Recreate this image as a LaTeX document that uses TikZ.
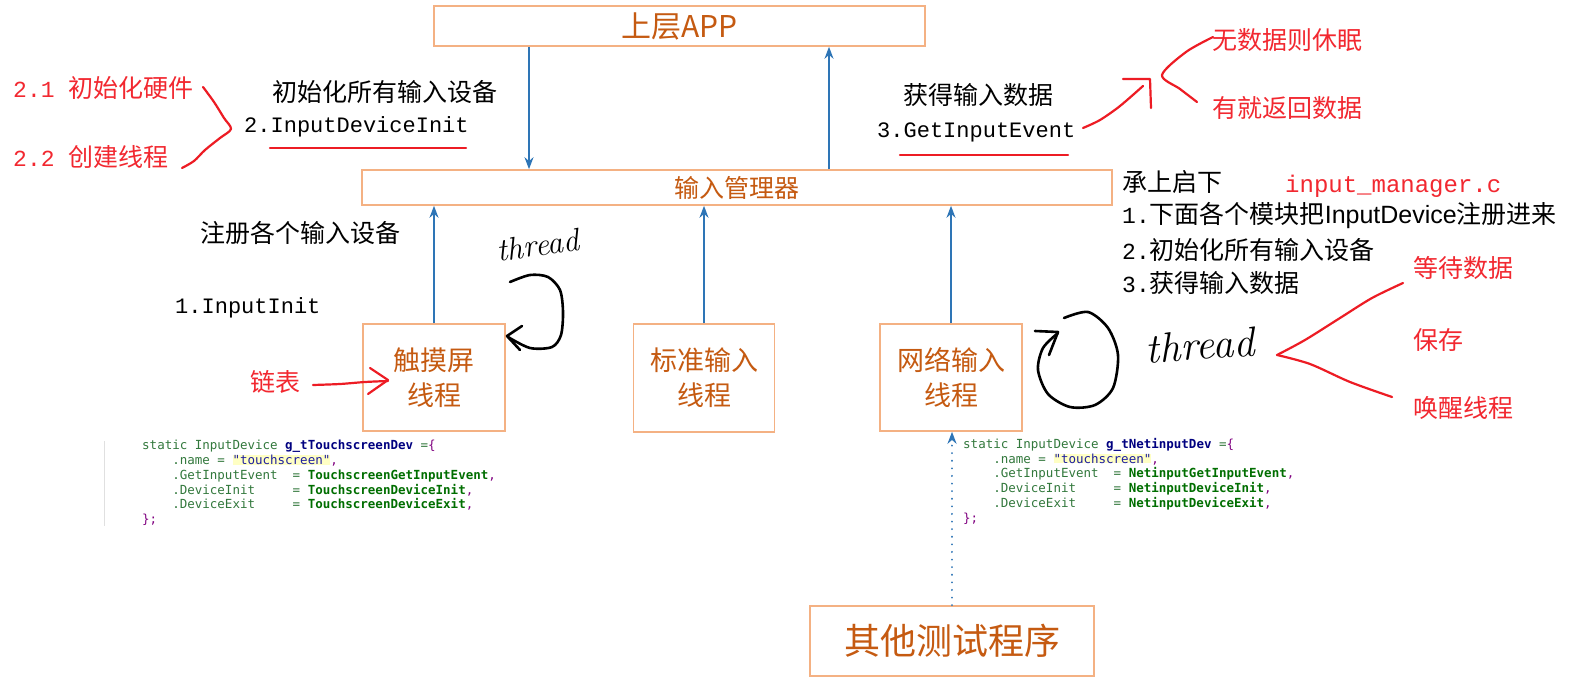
\documentclass[tikz,border=0pt]{standalone}
\usepackage{fontspec}
\newfontfamily\cjk{Noto Sans CJK SC}
\newfontfamily\cmono{Liberation Mono}
\newfontfamily\codefont{DejaVu Sans Mono}
\newfontfamily\lsans{Liberation Sans}
\usetikzlibrary{arrows.meta}
\definecolor{boxline}{RGB}{244,177,131}
\definecolor{boxtext}{RGB}{197,90,17}
\definecolor{arrowblue}{RGB}{46,117,182}
\definecolor{hred}{RGB}{237,28,36}
\definecolor{tred}{RGB}{242,40,48}
\definecolor{cg}{RGB}{50,120,60}
\definecolor{cb}{RGB}{0,110,0}
\definecolor{cn}{RGB}{0,0,128}
\definecolor{cp}{RGB}{128,0,128}
\definecolor{cs}{RGB}{30,30,160}
\definecolor{strbg}{RGB}{255,255,196}
\newcommand\ind[1]{\hspace*{#1\dimexpr 7.525pt\relax}}
\begin{document}
\begin{tikzpicture}[x=1pt,y=-1pt,
  box/.style={draw=boxline, line width=1.6pt, text=boxtext, inner sep=0pt, align=center},
  barrow/.style={draw=arrowblue, line width=1.6pt, -{Stealth[length=12pt,width=9pt]}},
  blk/.style={anchor=west, inner sep=0pt, font=\cjk\fontsize{25}{28}\selectfont},
  rtxt/.style={anchor=west, inner sep=0pt, text=tred, font=\cjk\fontsize{25}{28}\selectfont},
  monotxt/.style={anchor=west, inner sep=0pt, font=\cmono\fontsize{22}{26}\selectfont},
  hand/.style={hred, line width=2.2pt, line cap=round, line join=round},
  bhand/.style={black, line width=2.6pt, line cap=round, line join=round},
  code/.style={anchor=north west, inner sep=0pt, align=left, font=\codefont\fontsize{12.5}{14.8}\selectfont}
]
\fill[white] (0,0) rectangle (1578,692);
\useasboundingbox (0,0) rectangle (1578,692);

% boxes
\node[box, minimum width=491pt, minimum height=40pt, font=\cjk\fontsize{30}{32}\selectfont] (app) at (679.5,26) {上层APP};
\node[box, minimum width=750pt, minimum height=35pt, font=\cjk\fontsize{25}{28}\selectfont] (mgr) at (737,187.5) {输入管理器};
\node[box, minimum width=142pt, minimum height=107pt, font=\cjk\fontsize{27}{35}\selectfont] (touch) at (434,377.5) {触摸屏\\线程};
\node[box, minimum width=141pt, minimum height=108pt, font=\cjk\fontsize{27}{35}\selectfont] (std) at (704,378) {标准输入\\线程};
\node[box, minimum width=142pt, minimum height=107pt, font=\cjk\fontsize{27}{35}\selectfont] (net) at (951,377.5) {网络输入\\线程};
\node[box, minimum width=284pt, minimum height=70pt, font=\cjk\fontsize{36}{40}\selectfont] (other) at (952,641) {其他测试程序};

% blue arrows
\coordinate (xd) at (529,0);
\coordinate (xu) at (829,0);
\draw[barrow] (app.south -| xd) -- (mgr.north -| xd);
\draw[barrow] (mgr.north -| xu) -- (app.south -| xu);
\draw[barrow] (touch.north) -- (mgr.south -| touch.north);
\draw[barrow] (std.north) -- (mgr.south -| std.north);
\draw[barrow] (net.north) -- (mgr.south -| net.north);
\draw[barrow, line width=2pt, dash pattern=on 0.1pt off 7.5pt, line cap=round] (other.north) -- (net.south -| other.north);

% black texts
\node[blk] (t1) at (272,92) {初始化所有输入设备};
\node[monotxt] (t2) at (244,127) {2.InputDeviceInit};
\node[blk] (t3) at (903,95) {获得输入数据};
\node[monotxt] (t4) at (877,132) {3.GetInputEvent};
\node[blk] (t5) at (1122,182) {承上启下};
\node[anchor=west, inner sep=0pt, text=tred, font=\cmono\fontsize{24}{28}\selectfont] (t6) at (1285,186) {input\_manager.c};
\node[blk] (t7) at (1122,215) {{\cmono\fontsize{23}{28}\selectfont 1.}下面各个模块把{\lsans InputDevice}注册进来};
\node[blk] (t8) at (1122,250) {{\cmono\fontsize{23}{28}\selectfont 2.}初始化所有输入设备};
\node[blk] (t9) at (1122,283) {{\cmono\fontsize{23}{28}\selectfont 3.}获得输入数据};
\node[blk] (t10) at (200,233) {注册各个输入设备};
\node[monotxt] (t11) at (175,308) {1.InputInit};

% red texts
\node[rtxt] (r1) at (13,88) {{\cmono\fontsize{23}{28}\selectfont 2.1 }初始化硬件};
\node[rtxt] (r2) at (13,157) {{\cmono\fontsize{23}{28}\selectfont 2.2 }创建线程};
\node[rtxt] (r3) at (1212,40) {无数据则休眠};
\node[rtxt] (r4) at (1212,108) {有就返回数据};
\node[rtxt] (r5) at (1413,268) {等待数据};
\node[rtxt] (r6) at (1413,340) {保存};
\node[rtxt] (r7) at (1413,408) {唤醒线程};
\node[rtxt] (r8) at (250,382) {链表};

% red hand strokes
\draw[hand] (270,148) -- (466,148);
\draw[hand] (900,155) -- (1068,155);
\draw[hand] plot[smooth] coordinates {(203,87) (214,102) (224,118) (231,129) (220,138) (205,150) (194,161) (182,168)};
\draw[hand] plot[smooth] coordinates {(1083,128) (1100,120) (1120,106) (1143,86)};
\draw[hand] (1123,79) -- (1150,79) -- (1151,108);
\draw[hand] plot[smooth] coordinates {(1213,37) (1186,52) (1162,75) (1180,89) (1197,102)};
\draw[hand] plot[smooth] coordinates {(313,385) (340,384) (365,382) (388,381)};
\draw[hand] (370,368) -- (388,380) -- (368,394);
\draw[hand] plot[smooth] coordinates {(1277,355) (1305,340) (1340,318) (1372,298) (1403,283)};
\draw[hand] plot[smooth] coordinates {(1277,355) (1310,364) (1350,382) (1392,397)};

% black hand strokes
\draw[bhand] plot[smooth] coordinates {(510,282) (530,275) (548,277) (560,290) (563,312) (561,335) (552,347) (530,348) (508,337)};
\draw[bhand] (522,326) -- (507,336) -- (520,350);
\draw[bhand] plot[smooth] coordinates {(1064,318) (1088,312) (1108,328) (1118,355) (1113,388) (1095,405) (1070,407) (1048,394) (1038,370) (1043,348) (1058,333)};
\draw[bhand] (1035,331) -- (1058,332) -- (1049,355);
\node[inner sep=0pt, rotate=8, font=\itshape\fontsize{32}{34}\selectfont] (th1) at (538,245) {thread};
\node[inner sep=0pt, rotate=4, font=\itshape\fontsize{42}{44}\selectfont] (th2) at (1200,345) {thread};

% code blocks
\draw[black!12, line width=0.8pt] (104,441) -- (104,526);
\node[code] (c1) at (142,440) {%
\textcolor{cg}{static InputDevice} \textcolor{cn}{\bfseries g\_tTouchscreenDev} \textcolor{cg}{=}\textcolor{cp}{\{}\\
\ind{4}\textcolor{cg}{.name = }{\fboxsep=0pt\colorbox{strbg}{\textcolor{cs}{"touchscreen"}}}\textcolor{cp}{,}\\
\ind{4}\textcolor{cg}{.GetInputEvent\ind{2}= }\textcolor{cb}{\bfseries TouchscreenGetInputEvent}\textcolor{cp}{,}\\
\ind{4}\textcolor{cg}{.DeviceInit\ind{5}= }\textcolor{cb}{\bfseries TouchscreenDeviceInit}\textcolor{cp}{,}\\
\ind{4}\textcolor{cg}{.DeviceExit\ind{5}= }\textcolor{cb}{\bfseries TouchscreenDeviceExit}\textcolor{cp}{,}\\
\textcolor{cp}{\};}};
\node[code] (c2) at (963,438) {%
\textcolor{cg}{static InputDevice} \textcolor{cn}{\bfseries g\_tNetinputDev} \textcolor{cg}{=}\textcolor{cp}{\{}\\
\ind{4}\textcolor{cg}{.name = }{\fboxsep=0pt\colorbox{strbg}{\textcolor{cs}{"touchscreen"}}}\textcolor{cp}{,}\\
\ind{4}\textcolor{cg}{.GetInputEvent\ind{2}= }\textcolor{cb}{\bfseries NetinputGetInputEvent}\textcolor{cp}{,}\\
\ind{4}\textcolor{cg}{.DeviceInit\ind{5}= }\textcolor{cb}{\bfseries NetinputDeviceInit}\textcolor{cp}{,}\\
\ind{4}\textcolor{cg}{.DeviceExit\ind{5}= }\textcolor{cb}{\bfseries NetinputDeviceExit}\textcolor{cp}{,}\\
\textcolor{cp}{\};}};
\end{tikzpicture}
\end{document}
